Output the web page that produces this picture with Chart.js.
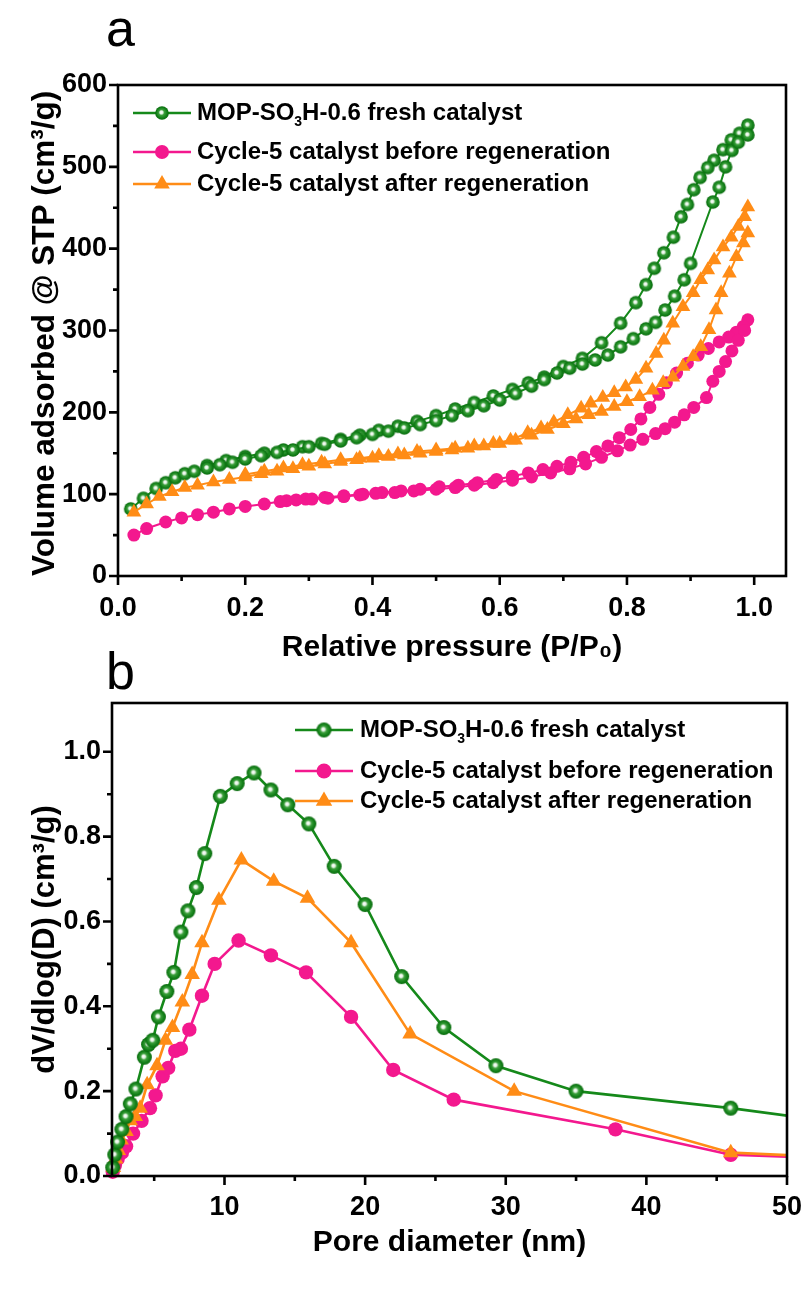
<!DOCTYPE html>
<html><head><meta charset="utf-8">
<script src="https://cdn.jsdelivr.net/npm/chart.js@4.4.1/dist/chart.umd.min.js"></script>
<style>
html,body{margin:0;padding:0;background:#fff;}
#wrap{position:relative;width:806px;height:1289px;overflow:hidden;background:#fff;}
.cv{position:absolute;left:0;width:806px;}
#ca{top:0;height:672px;}
#cb{top:672px;height:617px;}
.pl{position:absolute;font-family:"Liberation Sans",Arial,sans-serif;font-size:52px;color:#000;line-height:1;}
</style></head><body>
<div id="wrap">
<div class="cv" id="ca"><canvas id="chartA"></canvas></div>
<div class="cv" id="cb"><canvas id="chartB"></canvas></div>
<div class="pl" style="left:106px;top:2px">a</div>
<div class="pl" style="left:106px;top:645px">b</div>
</div>
<script>
// ---------------- DATA ----------------
const seriesLabels = ['MOP-SO₃H-0.6 fresh catalyst','Cycle-5 catalyst before regeneration','Cycle-5 catalyst after regeneration'];

// Panel a : N2 isotherms (relative pressure P/P0, volume cm3/g)
const freshAdsP = [0.02,0.04,0.06,0.075,0.09,0.105,0.12,0.14,0.16,0.18,0.20,0.225,0.25,0.275,0.30,0.325,0.35,0.375,0.40,0.425,0.45,0.475,0.50,0.525,0.55,0.575,0.60,0.625,0.65,0.67,0.69,0.71,0.73,0.75,0.77,0.79,0.81,0.83,0.845,0.86,0.875,0.89,0.90,0.935,0.945,0.955,0.965,0.975,0.99];
const freshAdsV = [82,95,107,114,120,125,128,132,136,139,143,147,151,154,158,161,165,169,173,177,181,185,190,196,202,208,215,223,232,240,248,254,259,264,270,280,290,302,310,325,342,362,382,457,475,500,520,530,539];
const freshDesP = [0.99,0.977,0.964,0.951,0.937,0.927,0.915,0.905,0.895,0.885,0.873,0.858,0.843,0.83,0.814,0.79,0.76,0.73,0.70,0.67,0.645,0.62,0.59,0.56,0.53,0.50,0.47,0.44,0.41,0.38,0.35,0.32,0.29,0.26,0.23,0.20,0.17,0.14];
const freshDesV = [551,541,533,521,508,499,487,472,454,439,414,395,376,356,334,309,285,266,256,243,236,228,220,212,204,196,189,183,178,172,167,162,158,154,150,146,141,135];

const beforeAdsP = [0.025,0.045,0.075,0.10,0.125,0.15,0.175,0.20,0.23,0.255,0.28,0.305,0.33,0.355,0.38,0.405,0.435,0.465,0.50,0.53,0.56,0.59,0.62,0.65,0.68,0.71,0.735,0.76,0.785,0.805,0.825,0.845,0.86,0.875,0.89,0.905,0.925,0.935,0.945,0.955,0.965,0.975,0.985];
const beforeAdsV = [50,58,66,71,75,78,82,85,88,91,93,94,95,97,99,101,102,104,106,108,111,114,117,121,126,131,137,145,153,160,167,174,180,188,197,206,218,238,250,262,275,288,300];
const beforeDesP = [0.99,0.983,0.972,0.96,0.945,0.928,0.912,0.895,0.878,0.862,0.85,0.836,0.822,0.806,0.788,0.77,0.752,0.732,0.712,0.69,0.668,0.645,0.62,0.595,0.565,0.535,0.505,0.475,0.445,0.415,0.385,0.355,0.325,0.295,0.265];
const beforeDesV = [313,305,298,292,286,278,270,260,248,236,222,206,192,179,169,159,152,145,139,134,130,126,122,118,114,111,109,106,104,102,100,98,96,94,92];

const afterAdsP = [0.025,0.045,0.065,0.085,0.105,0.125,0.15,0.175,0.20,0.225,0.25,0.275,0.30,0.325,0.35,0.375,0.40,0.425,0.45,0.475,0.50,0.525,0.55,0.575,0.60,0.625,0.65,0.675,0.70,0.72,0.74,0.76,0.78,0.80,0.82,0.84,0.857,0.872,0.888,0.904,0.916,0.929,0.94,0.948,0.961,0.972,0.983,0.99];
const afterAdsV = [78,88,97,103,108,111,115,118,121,125,128,131,134,137,140,142,144,146,148,150,152,154,156,159,162,166,172,179,186,192,197,201,207,213,219,227,236,243,256,268,280,301,325,346,370,390,407,419];
const afterDesP = [0.99,0.985,0.975,0.964,0.951,0.937,0.927,0.916,0.904,0.888,0.872,0.858,0.846,0.83,0.814,0.798,0.78,0.762,0.743,0.728,0.707,0.685,0.665,0.644,0.617,0.59,0.56,0.53,0.50,0.47,0.44,0.41,0.38,0.35,0.32,0.29,0.26,0.23,0.20];
const afterDesV = [451,439,427,414,402,386,374,362,346,329,309,288,272,254,240,231,224,218,211,205,197,188,181,175,166,162,159,156,154,152,149,147,144,142,139,136,132,128,124];

// Panel b : pore size distribution (pore diameter nm, dV/dlog(D))
const freshD   = [2.05,2.2,2.4,2.7,3.0,3.3,3.7,4.3,4.6,4.9,5.3,5.9,6.4,6.9,7.4,8.0,8.6,9.7,10.9,12.1,13.3,14.5,16.0,17.8,20.0,22.6,25.6,29.3,35.0,46.0,55.0];
const freshPSD = [0.02,0.05,0.08,0.11,0.14,0.17,0.205,0.28,0.31,0.32,0.375,0.435,0.48,0.575,0.625,0.68,0.76,0.895,0.925,0.95,0.91,0.875,0.83,0.73,0.64,0.47,0.35,0.26,0.20,0.16,0.12];
const beforeD   = [2.05,2.2,2.4,2.7,3.0,3.5,4.1,4.7,5.1,5.6,6.0,6.5,6.9,7.5,8.4,9.3,11.0,13.3,15.8,19.0,22.0,26.3,37.8,46.0,55.0];
const beforePSD = [0.01,0.025,0.04,0.055,0.07,0.10,0.13,0.16,0.19,0.235,0.255,0.295,0.30,0.345,0.425,0.50,0.555,0.52,0.48,0.375,0.25,0.18,0.11,0.05,0.04];
const afterD   = [2.1,2.25,2.45,2.65,3.0,3.3,3.65,4.0,4.5,5.2,5.8,6.3,7.0,7.7,8.4,9.6,11.2,13.5,15.9,19.0,23.2,30.6,46.0,55.0];
const afterPSD = [0.02,0.04,0.06,0.085,0.105,0.13,0.14,0.16,0.215,0.26,0.32,0.35,0.41,0.475,0.55,0.65,0.745,0.695,0.655,0.55,0.335,0.20,0.055,0.042];

// Tick values and labels
const aXTicks = [0,0.2,0.4,0.6,0.8,1.0];
const aXTickLabels = ['0.0','0.2','0.4','0.6','0.8','1.0'];
const aXMinor = [0.1,0.3,0.5,0.7,0.9];
const aYTicks = [0,100,200,300,400,500,600];
const aYTickLabels = ['0','100','200','300','400','500','600'];
const aYMinor = [50,150,250,350,450,550];
const bXTicks = [10,20,30,40,50];
const bXTickLabels = ['10','20','30','40','50'];
const bXMinor = [5,15,25,35,45];
const bYTicks = [0,0.2,0.4,0.6,0.8,1.0];
const bYTickLabels = ['0.0','0.2','0.4','0.6','0.8','1.0'];
const bYMinor = [0.1,0.3,0.5,0.7,0.9];

// ---------------- STYLE ----------------
const GREEN = '#15891a', PINK = '#f3188e', ORANGE = '#ff8c16';
const FONT = '"Liberation Sans", Arial, Helvetica, sans-serif';

function sphere(r){
  const s = Math.ceil(2*r+2);
  const c = document.createElement('canvas'); c.width = c.height = s;
  const g = c.getContext('2d'); const cx = s/2, cy = s/2;
  const grad = g.createRadialGradient(cx-r*0.12, cy-r*0.12, 0, cx, cy, r);
  grad.addColorStop(0,'#ffffff'); grad.addColorStop(0.22,'#e4f3e4');
  grad.addColorStop(0.42,'#3c9f3c'); grad.addColorStop(0.75,'#14821a'); grad.addColorStop(1,'#0a6a0e');
  g.fillStyle = grad; g.beginPath(); g.arc(cx,cy,r,0,Math.PI*2); g.fill();
  return c;
}
const sphereA = sphere(6.8), sphereB = sphere(7.5);

const pts = (xs, ys) => xs.map((x,i)=>({x:x, y:ys[i]}));

function ds(label, xs, ys, color, style, r, lw, order){
  return {label:label, data:pts(xs,ys), showLine:true, borderColor:color, backgroundColor:color,
    borderWidth:lw, pointStyle:style, pointRadius:r, pointHoverRadius:r, pointBorderWidth:0,
    pointBackgroundColor:color, pointBorderColor:color, tension:0, order:order,
    clip:{left:10, top:10, right:0, bottom:10}};
}

function drawRich(ctx, str, x, y, size){
  const subMap={'₀':'0','₁':'1','₂':'2','₃':'3','₄':'4','₅':'5','₆':'6','₇':'7','₈':'8','₉':'9'};
  const supMap={'¹':'1','²':'2','³':'3'};
  let cx = x, buf = '';
  ctx.textAlign='left'; ctx.textBaseline='middle'; ctx.fillStyle='#000';
  const flush=()=>{ if(!buf) return; ctx.font='bold '+size+'px '+FONT; ctx.fillText(buf,cx,y); cx+=ctx.measureText(buf).width; buf=''; };
  for (const ch of str){
    if (subMap[ch] || supMap[ch]){
      flush();
      const s = Math.round(size*0.6); ctx.font='bold '+s+'px '+FONT;
      const t = subMap[ch] || supMap[ch];
      const dy = subMap[ch] ? size*0.38 : -size*0.38;
      ctx.fillText(t, cx, y+dy); cx += ctx.measureText(t).width;
    } else buf += ch;
  }
  flush();
}

const frameTicks = {
  id:'frameTicks',
  afterDraw(chart, args, o){
    const {ctx, chartArea:a} = chart; const x = chart.scales.x, y = chart.scales.y;
    ctx.save(); ctx.strokeStyle='#000'; ctx.lineWidth=o.lw; ctx.lineCap='butt';
    ctx.strokeRect(a.left, a.top, a.right-a.left, a.bottom-a.top);
    ctx.beginPath();
    o.xMajor.forEach(v=>{const p=x.getPixelForValue(v); ctx.moveTo(p,a.bottom); ctx.lineTo(p,a.bottom+o.major);});
    o.xMinor.forEach(v=>{const p=x.getPixelForValue(v); ctx.moveTo(p,a.bottom); ctx.lineTo(p,a.bottom+o.minor);});
    o.yMajor.forEach(v=>{const p=y.getPixelForValue(v); ctx.moveTo(a.left,p); ctx.lineTo(a.left-o.major,p);});
    o.yMinor.forEach(v=>{const p=y.getPixelForValue(v); ctx.moveTo(a.left,p); ctx.lineTo(a.left-o.minor,p);});
    ctx.stroke(); ctx.restore();
  }
};

const richLegend = {
  id:'richLegend',
  afterDraw(chart, args, o){
    const ctx = chart.ctx; ctx.save();
    o.items.forEach((it,i)=>{
      const yy = o.rows[i];
      ctx.strokeStyle = it.color; ctx.lineWidth = o.lineWidth;
      ctx.beginPath(); ctx.moveTo(o.x0,yy); ctx.lineTo(o.x1,yy); ctx.stroke();
      ctx.fillStyle = it.color; ctx.strokeStyle = it.color;
      Chart.helpers.drawPoint(ctx, {pointStyle:it.style, radius:it.r, rotation:0, borderWidth:0}, (o.x0+o.x1)/2, yy);
      drawRich(ctx, it.text, o.tx, yy, o.size);
    });
    ctx.restore();
  }
};

function tickFont(){ return {family:FONT, size:27, weight:'bold'}; }
function titleFont(){ return {family:FONT, size:30, weight:'bold'}; }
const noPadX = s => { s.paddingLeft = 0; s.paddingRight = 0; };
const noPadY = s => { s.paddingTop = 0; s.paddingBottom = 0; };

// ---------------- CHART A ----------------
new Chart(document.getElementById('chartA'), {
  type:'scatter',
  data:{datasets:[
    ds(seriesLabels[0], freshAdsP, freshAdsV, GREEN, sphereA, 6.8, 2, 3),
    ds(seriesLabels[0], freshDesP, freshDesV, GREEN, sphereA, 6.8, 2, 3),
    ds(seriesLabels[1], beforeAdsP, beforeAdsV, PINK, 'circle', 6.5, 2, 2),
    ds(seriesLabels[1], beforeDesP, beforeDesV, PINK, 'circle', 6.5, 2, 2),
    ds(seriesLabels[2], afterAdsP, afterAdsV, ORANGE, 'triangle', 8.5, 2, 1),
    ds(seriesLabels[2], afterDesP, afterDesV, ORANGE, 'triangle', 8.5, 2, 1)
  ]},
  options:{
    responsive:true, maintainAspectRatio:false, animation:false,
    layout:{padding:{left:0, top:85, right:20, bottom:0}},
    plugins:{legend:{display:false}, tooltip:{enabled:false},
      frameTicks:{lw:2.6, major:9, minor:5, xMajor:aXTicks, xMinor:aXMinor, yMajor:aYTicks, yMinor:aYMinor},
      richLegend:{x0:133, x1:191, tx:197, rows:[113,152,184], size:24, lineWidth:2.5,
        items:[{text:seriesLabels[0], color:GREEN, style:sphereA, r:6.8},
               {text:seriesLabels[1], color:PINK, style:'circle', r:7},
               {text:seriesLabels[2], color:ORANGE, style:'triangle', r:9}]}
    },
    scales:{
      x:{type:'linear', min:0, max:1.05, position:'bottom',
        grid:{display:false, drawTicks:false, tickLength:0}, border:{display:false},
        afterBuildTicks:s=>{s.ticks=aXTicks.map(v=>({value:v}));},
        ticks:{font:tickFont(), color:'#000', padding:16, maxRotation:0, autoSkip:false,
          callback:(v,i)=>aXTickLabels[i]},
        title:{display:true, text:'Relative pressure (P/P₀)', font:titleFont(), color:'#000', padding:{top:0,bottom:6}},
        afterFit:s=>{s.height=96; noPadX(s);}
      },
      y:{type:'linear', min:0, max:600, position:'left',
        grid:{display:false, drawTicks:false, tickLength:0}, border:{display:false},
        afterBuildTicks:s=>{s.ticks=aYTicks.map(v=>({value:v}));},
        ticks:{font:tickFont(), color:'#000', padding:11, autoSkip:false,
          callback:(v,i)=>aYTickLabels[i]},
        title:{display:true, align:'start', text:'Volume adsorbed @ STP (cm³/g)', font:{family:FONT, size:31.5, weight:'bold'}, color:'#000', padding:{top:26,bottom:0}},
        afterFit:s=>{s.width=118; noPadY(s);}
      }
    }
  },
  plugins:[frameTicks, richLegend]
});

// ---------------- CHART B ----------------
new Chart(document.getElementById('chartB'), {
  type:'scatter',
  data:{datasets:[
    ds(seriesLabels[0], freshD, freshPSD, GREEN, sphereB, 7.5, 2.6, 1),
    ds(seriesLabels[1], beforeD, beforePSD, PINK, 'circle', 7.2, 2.6, 3),
    ds(seriesLabels[2], afterD, afterPSD, ORANGE, 'triangle', 9, 2.6, 2)
  ]},
  options:{
    responsive:true, maintainAspectRatio:false, animation:false,
    layout:{padding:{left:0, top:31, right:19, bottom:0}},
    plugins:{legend:{display:false}, tooltip:{enabled:false},
      frameTicks:{lw:2.6, major:9, minor:5, xMajor:bXTicks, xMinor:bXMinor, yMajor:bYTicks, yMinor:bYMinor},
      richLegend:{x0:295, x1:353, tx:360, rows:[58,99,129], size:24, lineWidth:2.6,
        items:[{text:seriesLabels[0], color:GREEN, style:sphereB, r:7.5},
               {text:seriesLabels[1], color:PINK, style:'circle', r:7.5},
               {text:seriesLabels[2], color:ORANGE, style:'triangle', r:9.5}]}
    },
    scales:{
      x:{type:'linear', min:2, max:50, position:'bottom',
        grid:{display:false, drawTicks:false, tickLength:0}, border:{display:false},
        afterBuildTicks:s=>{s.ticks=bXTicks.map(v=>({value:v}));},
        ticks:{font:tickFont(), color:'#000', padding:15, maxRotation:0, autoSkip:false,
          callback:(v,i)=>bXTickLabels[i]},
        title:{display:true, text:'Pore diameter (nm)', font:titleFont(), color:'#000', padding:{top:0,bottom:28}},
        afterFit:s=>{s.height=113; noPadX(s);}
      },
      y:{type:'linear', min:0, max:1.115, position:'left',
        grid:{display:false, drawTicks:false, tickLength:0}, border:{display:false},
        afterBuildTicks:s=>{s.ticks=bYTicks.map(v=>({value:v}));},
        ticks:{font:tickFont(), color:'#000', padding:11, autoSkip:false,
          callback:(v,i)=>bYTickLabels[i]},
        title:{display:true, text:'dV/dlog(D) (cm³/g)', font:{family:FONT, size:31, weight:'bold'}, color:'#000', padding:{top:27,bottom:0}},
        afterFit:s=>{s.width=112; noPadY(s);}
      }
    }
  },
  plugins:[frameTicks, richLegend]
});
</script>
</body></html>
